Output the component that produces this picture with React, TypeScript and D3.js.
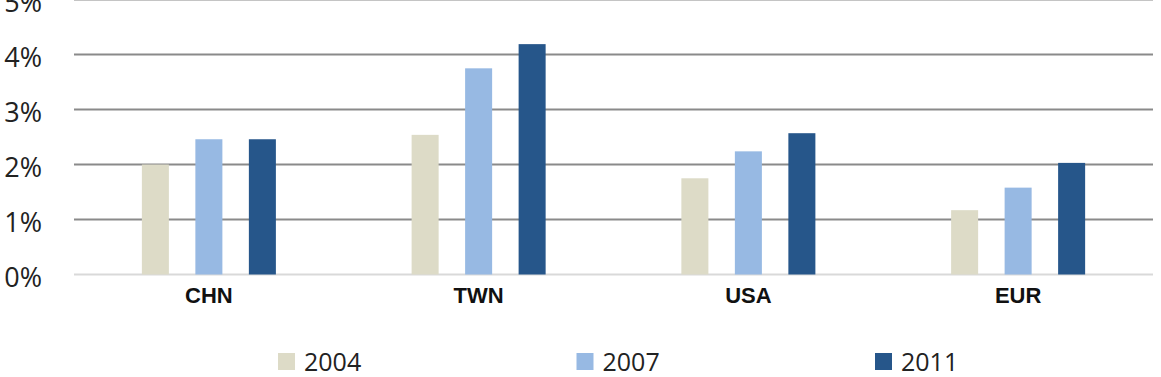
import React, { useRef, useEffect } from 'react';
import * as d3 from 'd3';

const categories = ['CHN', 'TWN', 'USA', 'EUR'];
const years = ['2004', '2007', '2011'];
const values2004 = [2.0, 2.54, 1.75, 1.17];
const values2007 = [2.46, 3.75, 2.24, 1.58];
const values2011 = [2.46, 4.19, 2.57, 2.03];
const yTicks = [0, 1, 2, 3, 4, 5];
const colors = ['#dddbc7', '#97b9e3', '#26568a'];

const App = () => {
  const chartRef = useRef(null);

  useEffect(() => {
    const container = d3.select(chartRef.current);
    container.select('svg').remove();

    const width = 1161;
    const height = 377;
    const series = [values2004, values2007, values2011];

    const svg = container
      .append('svg')
      .attr('width', width)
      .attr('height', height)
      .style('display', 'block')
      .style('background', '#fff');

    // plot area
    const left = 74;
    const right = 1153;

    const x0 = d3.scaleBand().domain(categories).range([left, right]);
    const x1 = d3.scaleBand()
      .domain(years)
      .range([-80.25, 80.25])
      .paddingInner(0.495)
      .paddingOuter(0.2475);
    const y = d3.scaleLinear().domain([0, 5]).range([274.5, -0.4]);

    // gridlines
    svg.append('g')
      .selectAll('line')
      .data(yTicks)
      .enter()
      .append('line')
      .attr('x1', left)
      .attr('x2', right)
      .attr('y1', (d: any) => y(d))
      .attr('y2', (d: any) => y(d))
      .attr('stroke', (d: any) => (d === 0 ? '#d9d9d9' : '#8a8a8a'))
      .attr('stroke-width', 2);

    // y labels
    svg.append('g')
      .selectAll('text')
      .data(yTicks)
      .enter()
      .append('text')
      .attr('x', 42)
      .attr('y', (d: any) => y(d) + 1.5)
      .attr('text-anchor', 'end')
      .attr('dominant-baseline', 'central')
      .attr('font-family', '"Open Sans", sans-serif')
      .attr('font-size', 27)
      .attr('fill', '#222')
      .text((d: any) => `${d}%`);

    // bars
    const groups = svg.append('g')
      .selectAll('g')
      .data(categories)
      .enter()
      .append('g')
      .attr('transform', (d: any) => `translate(${(x0(d) as number) + x0.bandwidth() / 2},0)`);

    groups.selectAll('rect')
      .data((_d: any, i: number) => years.map((yr, j) => ({ yr, v: series[j][i], j })))
      .enter()
      .append('rect')
      .attr('x', (d: any) => x1(d.yr) as number)
      .attr('width', x1.bandwidth())
      .attr('y', (d: any) => y(d.v))
      .attr('height', (d: any) => y(0) - y(d.v))
      .attr('fill', (d: any) => colors[d.j]);

    // category labels
    svg.append('g')
      .selectAll('text')
      .data(categories)
      .enter()
      .append('text')
      .attr('x', (d: any) => (x0(d) as number) + x0.bandwidth() / 2)
      .attr('y', 295)
      .attr('text-anchor', 'middle')
      .attr('dominant-baseline', 'central')
      .attr('font-family', '"Liberation Sans", Arial, sans-serif')
      .attr('font-weight', 'bold')
      .attr('font-size', 22)
      .attr('fill', '#111')
      .text((d: any) => d);

    // legend
    const legend = svg.append('g')
      .selectAll('g')
      .data(years)
      .enter()
      .append('g')
      .attr('transform', (_d: any, i: number) => `translate(${278 + i * 298.5},353)`);

    legend.append('rect')
      .attr('width', 17)
      .attr('height', 17)
      .attr('fill', (_d: any, i: number) => colors[i]);

    legend.append('text')
      .attr('x', 26)
      .attr('y', 8)
      .attr('dominant-baseline', 'central')
      .attr('font-family', '"Open Sans", sans-serif')
      .attr('font-size', 25)
      .attr('fill', '#222')
      .text((d: any) => d);
  }, []);

  return (
    <div ref={chartRef} style={{ position: 'absolute', left: 0, top: 0 }}></div>
  );
};

export default App;
